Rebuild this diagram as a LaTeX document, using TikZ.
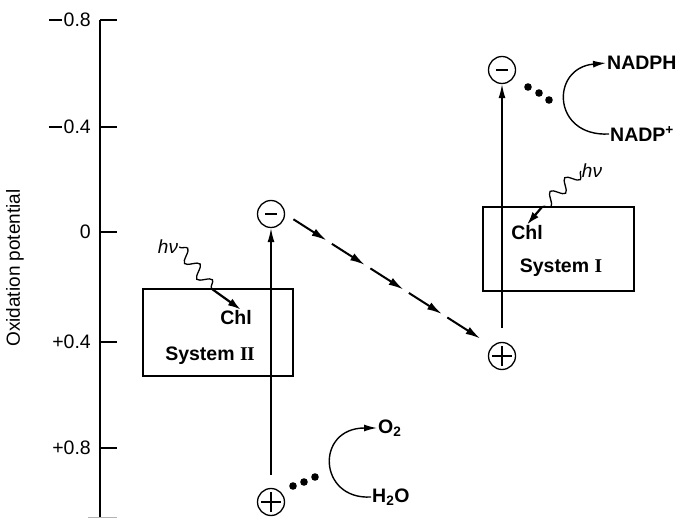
\documentclass[tikz,border=0pt]{standalone}
\usepackage{fontspec}
\setmainfont{Liberation Sans}
\newfontfamily\numfont{Liberation Serif}
\usepackage{tikz}
\usetikzlibrary{
    arrows.meta,
    calc,
    decorations.pathmorphing
}
\newcommand{\negsign}{\rule[0.3em]{0.68em}{0.085em}\kern0.08em}
\tikzstyle{axis} = [
    line width=1.8pt
]
\tikzstyle{lbl} = [
    inner sep=1pt,
    font=\fontsize{19.5}{22}\selectfont\bfseries
]
\tikzstyle{psbox} = [
    draw,
    line width=1.8pt,
    anchor=north west,
    inner sep=0pt
]
\tikzstyle{ionneg} = [
    circle,
    draw,
    line width=1.3pt,
    minimum size=27pt,
    inner sep=0pt,
    path picture={\draw[line width=2pt]
        ($(path picture bounding box.center)+(-6pt,0pt)$) --
        ($(path picture bounding box.center)+(6pt,0pt)$);}
]
\tikzstyle{ionpos} = [
    circle,
    draw,
    line width=1.3pt,
    minimum size=27pt,
    inner sep=0pt,
    path picture={\draw[line width=1.6pt]
        ($(path picture bounding box.center)+(-10pt,0pt)$) --
        ($(path picture bounding box.center)+(10pt,0pt)$)
        ($(path picture bounding box.center)+(0pt,-10pt)$) --
        ($(path picture bounding box.center)+(0pt,10pt)$);}
]
\tikzstyle{excite} = [
    line width=1.4pt,
    -{Latex[length=14pt,width=7pt]}
]
\tikzstyle{etrans} = [
    line width=2pt,
    -{Latex[length=15pt,width=8pt]}
]
\tikzstyle{wavy} = [
    line width=1.3pt,
    decorate,
    decoration={snake, segment length=20pt, amplitude=6pt}
]
\tikzstyle{hvtip} = [
    line width=2.2pt,
    -{Latex[length=13pt,width=8pt]}
]
\tikzstyle{redox} = [
    line width=1.4pt,
    -{Latex[length=13pt,width=7pt]}
]

\begin{document}
\begin{tikzpicture}[x=1pt, y=-1pt]
        \useasboundingbox (0,0) rectangle (683,518);

        % Potential axis
        \draw[axis] (100,20) -- (100,518);
        \foreach \y/\lab [count=\n] in {20/\negsign0.8, 127/\negsign0.4, 232/0, 342/+0.4, 448/+0.8}{
            \draw[line width=1.2pt] (100,\y) -- (117,\y);
            \node[lbl, font=\fontsize{19.5}{22}\selectfont, anchor=east] (tick\n) at (92,\y) {\lab};
        }
        \draw[gray!60, line width=1pt] (88,517) -- (117,517);
        \node[lbl, font=\fontsize{19}{22}\selectfont, rotate=90] (ylab) at (15,268) {Oxidation potential};

        % System II
        \node[psbox, minimum width=150pt, minimum height=87pt] (ps2) at (142,288) {};
        \node[lbl] (chl2) at (236,318) {Chl};
        \node[lbl] (sys2) at (210,356) {System {\numfont\bfseries I\kern-0.5pt I}};
        \node[lbl, font=\fontsize{19}{21}\selectfont\itshape] (hv2) at (168,247) {hν};
        \coordinate (w2) at (212,289);
        \draw[wavy] (hv2.east) -- (w2);
        \draw[hvtip] (w2) -- (chl2.60);

        % System I
        \node[psbox, minimum width=151pt, minimum height=84pt] (ps1) at (482,206) {};
        \node[lbl] (chl1) at (527,233) {Chl};
        \node[lbl] (sys1) at (561,268) {System {\numfont\bfseries I}};
        \node[lbl, font=\fontsize{19}{21}\selectfont\itshape] (hv1) at (592,171) {hν};
        \coordinate (w1) at (542,207);
        \draw[wavy] (hv1.west) -- (w1);
        \draw[hvtip] (w1) -- (chl1.north);

        % Excitation of System II
        \node[ionneg] (m2) at (271,214) {};
        \node[ionpos] (p2) at (271,502) {};
        \coordinate (b2) at ($(p2.north)+(0,-13)$);
        \draw[excite] (b2) -- (m2.south);

        % Excitation of System I
        \node[ionneg] (m1) at (502,70) {};
        \node[ionpos] (p1) at (502,356) {};
        \coordinate (b1) at ($(p1.north)+(0,-14)$);
        \draw[excite] (b1) -- (m1.south);

        % Electron transport chain
        \foreach \i in {0,...,4}{
            \pgfmathsetmacro\ta{0.04+0.186*\i}
            \pgfmathsetmacro\tb{\ta+0.16}
            \draw[etrans] ($(m2.east)!\ta!(p1.135)$) -- ($(m2.east)!\tb!(p1.135)$);
        }

        % Water splitting
        \foreach \p in {(293,486), (304,482), (315,477)}
            \fill \p circle (3.8pt);
        \node[lbl, anchor=west] (o2) at (377,428) {O\textsubscript{2}};
        \node[lbl, anchor=west] (h2o) at (371,497) {H\textsubscript{2}O};
        \draw[redox] (h2o.west) .. controls (318,500) and (315,428) .. (o2.west);

        % NADP reduction
        \foreach \p in {(528,87), (539,93), (549,100)}
            \fill \p circle (3.8pt);
        \node[lbl, anchor=west] (nadph) at (606,63) {NADPH};
        \node[lbl, anchor=west] (nadpp) at (609,134) {NADP\textsuperscript{+}};
        \draw[redox] (nadpp.west) .. controls (552,137) and (550,68) .. (nadph.west);
    \end{tikzpicture}
\end{document}
